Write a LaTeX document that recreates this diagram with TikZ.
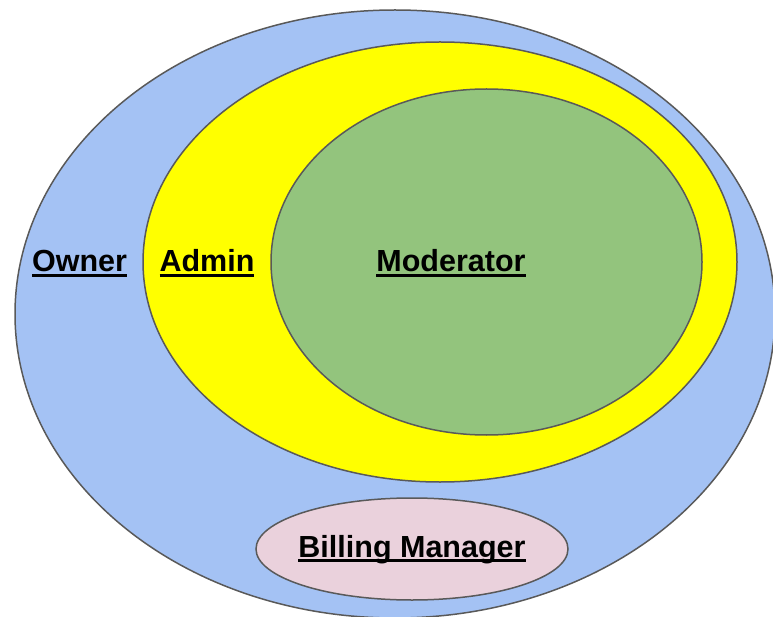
\documentclass[tikz,border=0pt]{standalone}
\usepackage{fontspec}
\setmainfont{Liberation Sans}
\usepackage{tikz}
\usetikzlibrary{shapes.geometric}

\definecolor{ownerblue}{HTML}{A4C2F4}
\definecolor{adminyellow}{HTML}{FFFF00}
\definecolor{modgreen}{HTML}{93C47D}
\definecolor{billingpink}{HTML}{EAD1DC}
\definecolor{edgegray}{HTML}{595959}

% underlined role name
\newlength{\ulwd}
\newcommand{\roleul}[1]{\settowidth{\ulwd}{#1}\rlap{\rule[-4.8pt]{\ulwd}{3pt}}#1}

\tikzset{
  role/.style={ellipse, draw=edgegray, line width=1.5pt, inner sep=0pt},
  rolename/.style={anchor=base, inner sep=0pt, font=\bfseries\fontsize{30.5}{36}\selectfont}
}

\begin{document}
\begin{tikzpicture}[x=1pt, y=-1pt]
    \useasboundingbox (0,0) rectangle (773,617);

    % Draw nested role sets
    \foreach \n/\c/\x/\y/\w/\h in {owner/ownerblue/395/314/760/608, admin/adminyellow/440/262/594/440, moderator/modgreen/486.5/262/431/346, billing/billingpink/412/549/312/102} {
      \node[role, fill=\c, minimum width=\w pt, minimum height=\h pt] (\n) at (\x,\y) {};
    }

    % Role names
    \foreach \n/\x/\y/\t in {ownername/79.5/272/Owner, adminname/207/272/Admin, moderatorname/451/272/Moderator, billingname/412/557/Billing Manager} {
      \node[rolename] (\n) at (\x,\y) {\roleul{\t}};
    }

\end{tikzpicture}
\end{document}
